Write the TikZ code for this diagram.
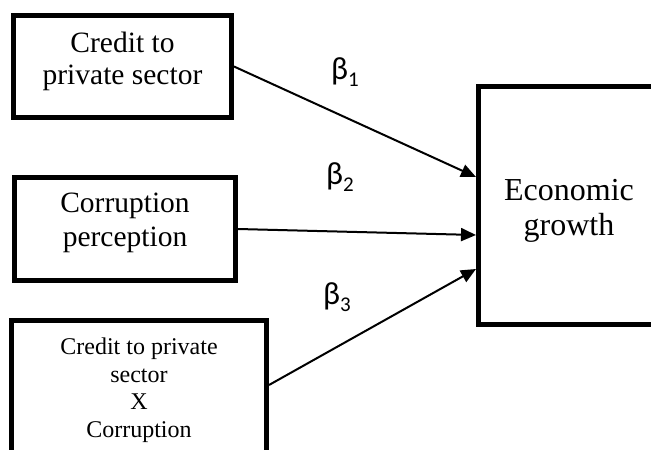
\documentclass[tikz,border=0pt]{standalone}
\usepackage{fontspec}
\setmainfont{Liberation Serif}
\newfontfamily\betafont{Carlito}
\usetikzlibrary{arrows.meta}
\newcommand{\zline}{\raisebox{0pt}[0pt][0pt]{}}
\begin{document}
\begin{tikzpicture}[x=1pt,y=-1pt,
  box/.style={draw,line width=4.8pt,inner sep=0pt,align=center},
  conn/.style={line width=2pt,-{Triangle[length=15pt,width=13pt]}},
  coef/.style={font=\betafont\fontsize{32}{34}\selectfont,inner sep=0pt}]
\useasboundingbox (0,0) rectangle (651,450);
\clip (0,0) rectangle (651,450);
\fill[white] (0,0) rectangle (651,450);
\node[box,minimum width=218.2pt,minimum height=102.2pt,font=\fontsize{29.5}{32}\selectfont] (b1) at (122.5,66.5) {Credit to\\private sector\\[-15.4pt]\zline};
\node[box,minimum width=221.2pt,minimum height=103.2pt,font=\fontsize{29.5}{34}\selectfont] (b2) at (125,229) {Corruption\\perception\\[-15.4pt]\zline};
\node[box,minimum width=255.2pt,minimum height=147.2pt,font=\fontsize{24}{27.5}\selectfont] (b3) at (139,394) {\zline\\[-18pt]Credit to private\\sector\\X\\Corruption};
\node[box,minimum width=181.2pt,minimum height=238.2pt,font=\fontsize{32}{35}\selectfont] (eco) at (569,205.5) {\zline\\[-4pt]Economic\\growth};
\draw[conn] (b1.east) -- ([yshift=28.5pt]eco.west);
\draw[conn] (b2.east) -- ([yshift=-29.5pt]eco.west);
\draw[conn] ([yshift=9pt]b3.east) -- ([yshift=-63.5pt]eco.west);
\node[coef] (c1) at (345,72) {β\raisebox{-0.2em}{\fontsize{21}{21}\selectfont 1}};
\node[coef] (c2) at (340,177) {β\raisebox{-0.2em}{\fontsize{21}{21}\selectfont 2}};
\node[coef] (c3) at (337,297) {β\raisebox{-0.2em}{\fontsize{21}{21}\selectfont 3}};
\end{tikzpicture}
\end{document}
